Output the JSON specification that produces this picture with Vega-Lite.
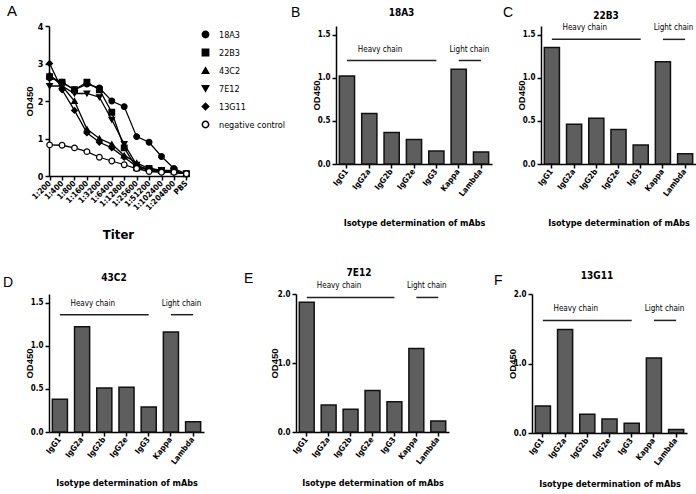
{
  "$schema": "https://vega.github.io/schema/vega-lite/v6.json",
  "padding": {"left": 3, "top": 4, "right": 0, "bottom": 0},
  "background": "white",
  "config": {
    "view": {"stroke": null},
    "font": "DejaVu Sans Condensed, Liberation Sans",
    "axis": {"domainColor": "black", "tickColor": "black", "labelColor": "black", "titleColor": "black", "grid": false, "domainWidth": 1.5, "tickWidth": 1.5, "labelFont": "DejaVu Sans Condensed, Liberation Sans", "titleFont": "DejaVu Sans Condensed, Liberation Sans"},
    "legend": {"labelFont": "DejaVu Sans Condensed, Liberation Sans"},
    "title": {"color": "black", "font": "DejaVu Sans Condensed, Liberation Sans"},
    "text": {"font": "DejaVu Sans Condensed, Liberation Sans"}
  },
  "resolve": {"scale": {"shape": "independent", "fill": "independent"}, "legend": {"shape": "independent", "fill": "independent"}},
  "datasets": {
    "lines": [
      {"series": "18A3", "titer": "1:200", "od": 2.62}, {"series": "18A3", "titer": "1:400", "od": 2.5}, {"series": "18A3", "titer": "1:800", "od": 2.3}, {"series": "18A3", "titer": "1:1600", "od": 2.45}, {"series": "18A3", "titer": "1:3200", "od": 2.35}, {"series": "18A3", "titer": "1:6400", "od": 2.0}, {"series": "18A3", "titer": "1:12800", "od": 1.85}, {"series": "18A3", "titer": "1:25600", "od": 1.05}, {"series": "18A3", "titer": "1:51200", "od": 0.9}, {"series": "18A3", "titer": "1:102400", "od": 0.52}, {"series": "18A3", "titer": "1:204800", "od": 0.2}, {"series": "18A3", "titer": "PBS", "od": 0.06},
      {"series": "22B3", "titer": "1:200", "od": 2.65}, {"series": "22B3", "titer": "1:400", "od": 2.5}, {"series": "22B3", "titer": "1:800", "od": 2.3}, {"series": "22B3", "titer": "1:1600", "od": 2.5}, {"series": "22B3", "titer": "1:3200", "od": 2.3}, {"series": "22B3", "titer": "1:6400", "od": 1.7}, {"series": "22B3", "titer": "1:12800", "od": 0.75}, {"series": "22B3", "titer": "1:25600", "od": 0.22}, {"series": "22B3", "titer": "1:51200", "od": 0.2}, {"series": "22B3", "titer": "1:102400", "od": 0.15}, {"series": "22B3", "titer": "1:204800", "od": 0.15}, {"series": "22B3", "titer": "PBS", "od": 0.06},
      {"series": "43C2", "titer": "1:200", "od": 2.7}, {"series": "43C2", "titer": "1:400", "od": 2.4}, {"series": "43C2", "titer": "1:800", "od": 2.0}, {"series": "43C2", "titer": "1:1600", "od": 1.25}, {"series": "43C2", "titer": "1:3200", "od": 1.0}, {"series": "43C2", "titer": "1:6400", "od": 0.85}, {"series": "43C2", "titer": "1:12800", "od": 0.55}, {"series": "43C2", "titer": "1:25600", "od": 0.35}, {"series": "43C2", "titer": "1:51200", "od": 0.2}, {"series": "43C2", "titer": "1:102400", "od": 0.15}, {"series": "43C2", "titer": "1:204800", "od": 0.12}, {"series": "43C2", "titer": "PBS", "od": 0.06},
      {"series": "7E12", "titer": "1:200", "od": 2.4}, {"series": "7E12", "titer": "1:400", "od": 2.4}, {"series": "7E12", "titer": "1:800", "od": 2.2}, {"series": "7E12", "titer": "1:1600", "od": 2.2}, {"series": "7E12", "titer": "1:3200", "od": 2.1}, {"series": "7E12", "titer": "1:6400", "od": 1.5}, {"series": "7E12", "titer": "1:12800", "od": 0.85}, {"series": "7E12", "titer": "1:25600", "od": 0.3}, {"series": "7E12", "titer": "1:51200", "od": 0.15}, {"series": "7E12", "titer": "1:102400", "od": 0.15}, {"series": "7E12", "titer": "1:204800", "od": 0.12}, {"series": "7E12", "titer": "PBS", "od": 0.06},
      {"series": "13G11", "titer": "1:200", "od": 3.0}, {"series": "13G11", "titer": "1:400", "od": 2.3}, {"series": "13G11", "titer": "1:800", "od": 1.75}, {"series": "13G11", "titer": "1:1600", "od": 1.15}, {"series": "13G11", "titer": "1:3200", "od": 0.9}, {"series": "13G11", "titer": "1:6400", "od": 0.75}, {"series": "13G11", "titer": "1:12800", "od": 0.5}, {"series": "13G11", "titer": "1:25600", "od": 0.25}, {"series": "13G11", "titer": "1:51200", "od": 0.15}, {"series": "13G11", "titer": "1:102400", "od": 0.12}, {"series": "13G11", "titer": "1:204800", "od": 0.1}, {"series": "13G11", "titer": "PBS", "od": 0.06},
      {"series": "negative control", "titer": "1:200", "od": 0.83}, {"series": "negative control", "titer": "1:400", "od": 0.82}, {"series": "negative control", "titer": "1:800", "od": 0.75}, {"series": "negative control", "titer": "1:1600", "od": 0.65}, {"series": "negative control", "titer": "1:3200", "od": 0.5}, {"series": "negative control", "titer": "1:6400", "od": 0.4}, {"series": "negative control", "titer": "1:12800", "od": 0.3}, {"series": "negative control", "titer": "1:25600", "od": 0.2}, {"series": "negative control", "titer": "1:51200", "od": 0.12}, {"series": "negative control", "titer": "1:102400", "od": 0.1}, {"series": "negative control", "titer": "1:204800", "od": 0.1}, {"series": "negative control", "titer": "PBS", "od": 0.06}
    ],
    "bars": [
      {"panel": "18A3", "isotype": "IgG1", "od": 1.02}, {"panel": "18A3", "isotype": "IgG2a", "od": 0.585}, {"panel": "18A3", "isotype": "IgG2b", "od": 0.365}, {"panel": "18A3", "isotype": "IgG2e", "od": 0.285}, {"panel": "18A3", "isotype": "IgG3", "od": 0.15}, {"panel": "18A3", "isotype": "Kappa", "od": 1.1}, {"panel": "18A3", "isotype": "Lambda", "od": 0.14},
      {"panel": "22B3", "isotype": "IgG1", "od": 1.35}, {"panel": "22B3", "isotype": "IgG2a", "od": 0.46}, {"panel": "22B3", "isotype": "IgG2b", "od": 0.53}, {"panel": "22B3", "isotype": "IgG2e", "od": 0.4}, {"panel": "22B3", "isotype": "IgG3", "od": 0.22}, {"panel": "22B3", "isotype": "Kappa", "od": 1.185}, {"panel": "22B3", "isotype": "Lambda", "od": 0.12},
      {"panel": "43C2", "isotype": "IgG1", "od": 0.38}, {"panel": "43C2", "isotype": "IgG2a", "od": 1.22}, {"panel": "43C2", "isotype": "IgG2b", "od": 0.51}, {"panel": "43C2", "isotype": "IgG2e", "od": 0.52}, {"panel": "43C2", "isotype": "IgG3", "od": 0.29}, {"panel": "43C2", "isotype": "Kappa", "od": 1.16}, {"panel": "43C2", "isotype": "Lambda", "od": 0.12},
      {"panel": "7E12", "isotype": "IgG1", "od": 1.88}, {"panel": "7E12", "isotype": "IgG2a", "od": 0.39}, {"panel": "7E12", "isotype": "IgG2b", "od": 0.33}, {"panel": "7E12", "isotype": "IgG2e", "od": 0.6}, {"panel": "7E12", "isotype": "IgG3", "od": 0.44}, {"panel": "7E12", "isotype": "Kappa", "od": 1.21}, {"panel": "7E12", "isotype": "Lambda", "od": 0.16},
      {"panel": "13G11", "isotype": "IgG1", "od": 0.39}, {"panel": "13G11", "isotype": "IgG2a", "od": 1.49}, {"panel": "13G11", "isotype": "IgG2b", "od": 0.27}, {"panel": "13G11", "isotype": "IgG2e", "od": 0.2}, {"panel": "13G11", "isotype": "IgG3", "od": 0.14}, {"panel": "13G11", "isotype": "Kappa", "od": 1.08}, {"panel": "13G11", "isotype": "Lambda", "od": 0.05}
    ],
    "annot": [
      {"label": "Heavy chain", "from": "IgG1", "to": "IgG3", "mid": "IgG2b"},
      {"label": "Light chain", "from": "Kappa", "to": "Lambda", "mid": "Lambda"}
    ]
  },
  "spacing": 26,
  "vconcat": [
    {
      "spacing": 1,
      "resolve": {"scale": {"shape": "independent", "fill": "independent"}, "legend": {"shape": "independent", "fill": "independent"}},
      "hconcat": [
        {
          "title": {"text": "A", "anchor": "start", "frame": "group", "font": "Liberation Sans", "fontSize": 15, "fontWeight": "normal", "dx": -42, "offset": 3},
          "width": 138, "height": 150,
          "data": {"name": "lines"},
          "encoding": {
            "x": {"field": "titer", "type": "ordinal", "scale": {"type": "point", "padding": 0.05, "domain": ["1:200", "1:400", "1:800", "1:1600", "1:3200", "1:6400", "1:12800", "1:25600", "1:51200", "1:102400", "1:204800", "PBS"]},
              "axis": {"title": "Titer", "labelAngle": -45, "labelAlign": "right", "labelBaseline": "middle", "labelFontSize": 8, "labelFontWeight": "bold", "titleFontSize": 13, "titleFontWeight": "bold", "tickSize": 4, "labelPadding": 2, "titlePadding": 17}},
            "y": {"field": "od", "type": "quantitative", "scale": {"domain": [0, 4]},
              "axis": {"title": "OD450", "values": [0, 1, 2, 3, 4], "labelFontSize": 9, "labelFontWeight": "bold", "titleFont": "Liberation Sans", "titleFontSize": 9.5, "titleFontWeight": "bold", "titleX": -20, "titleBaseline": "middle", "tickSize": 4, "labelPadding": 2}}
          },
          "layer": [
            {"mark": {"type": "line", "color": "black", "strokeWidth": 1.3}, "encoding": {"detail": {"field": "series"}}},
            {"mark": {"type": "point", "filled": true, "stroke": "black", "strokeWidth": 1.2, "size": 32, "opacity": 1},
              "encoding": {
                "shape": {"field": "series", "type": "nominal", "scale": {"domain": ["18A3", "22B3", "43C2", "7E12", "13G11", "negative control"], "range": ["circle", "square", "triangle-up", "triangle-down", "diamond", "circle"]},
                  "legend": {"title": null, "orient": "right", "offset": 8, "labelFontSize": 9, "labelOffset": 9, "symbolSize": 40, "rowPadding": 5, "padding": 4, "labelColor": "black", "encode": {"symbols": {"update": {"stroke": {"value": "black"}, "strokeWidth": {"value": 1.2}}}}}},
                "fill": {"field": "series", "type": "nominal", "scale": {"domain": ["18A3", "22B3", "43C2", "7E12", "13G11", "negative control"], "range": ["black", "black", "black", "black", "black", "white"]},
                  "legend": {"title": null, "orient": "right", "offset": 8, "labelFontSize": 9, "labelOffset": 9, "symbolSize": 40, "rowPadding": 5, "padding": 4, "labelColor": "black", "encode": {"symbols": {"update": {"stroke": {"value": "black"}, "strokeWidth": {"value": 1.2}}}}}}
              }}
          ]
        },
        {
          "spacing": 11,
          "hconcat": [
            {
              "title": {"text": "B", "anchor": "start", "frame": "bounds", "font": "Liberation Sans", "fontSize": 14, "fontWeight": "normal", "dx": -20, "dy": 12, "offset": 0},
              "vconcat": [{
                "title": {"text": "18A3", "fontSize": 10, "fontWeight": "bold", "offset": 8, "anchor": "middle", "frame": "bounds"},
                "width": 156, "height": 138,
                "layer": [
                  {"data": {"name": "bars"}, "transform": [{"filter": "datum.panel === '18A3'"}],
                    "mark": {"type": "bar", "fill": "#5e5e5e", "stroke": "#111111", "strokeWidth": 1.5},
                    "encoding": {
                      "x": {"field": "isotype", "type": "nominal", "scale": {"domain": ["IgG1", "IgG2a", "IgG2b", "IgG2e", "IgG3", "Kappa", "Lambda"], "paddingInner": 0.32, "paddingOuter": 0.15},
                        "axis": {"title": "Isotype determination of mAbs", "labelAngle": -52, "labelFontSize": 8, "labelFontWeight": "bold", "titleFontSize": 9, "titleFontWeight": "bold", "tickSize": 4, "labelPadding": 2, "titlePadding": 21}},
                      "y": {"field": "od", "type": "quantitative", "scale": {"domain": [0, 1.5]},
                        "axis": {"title": "OD450", "values": [0, 0.5, 1, 1.5], "format": ".1f", "labelFontSize": 8, "labelFontWeight": "bold", "titleFont": "Liberation Sans", "titleFontSize": 9.5, "titleFontWeight": "bold", "titleX": -20, "titleBaseline": "middle", "tickSize": 4, "labelPadding": 2}}
                    }},
                  {"data": {"name": "annot"}, "mark": {"type": "rule", "color": "#222222", "strokeWidth": 1.5},
                    "encoding": {"x": {"field": "from", "type": "nominal"}, "x2": {"field": "to"}, "y": {"datum": 1.2}}},
                  {"data": {"name": "annot"}, "mark": {"type": "text", "fontSize": 8, "dx": -4, "dy": -11, "baseline": "middle", "color": "black"},
                    "encoding": {"x": {"field": "mid", "type": "nominal", "bandPosition": 0}, "y": {"datum": 1.2}, "text": {"field": "label"}}}
                ]
              }]
            },
            {
              "title": {"text": "C", "anchor": "start", "frame": "bounds", "font": "Liberation Sans", "fontSize": 14, "fontWeight": "normal", "dx": -13, "dy": 9, "offset": 0},
              "vconcat": [{
                "title": {"text": "22B3", "fontSize": 10, "fontWeight": "bold", "offset": 3, "anchor": "middle", "frame": "bounds"},
                "width": 155, "height": 138,
                "layer": [
                  {"data": {"name": "bars"}, "transform": [{"filter": "datum.panel === '22B3'"}],
                    "mark": {"type": "bar", "fill": "#5e5e5e", "stroke": "#111111", "strokeWidth": 1.5},
                    "encoding": {
                      "x": {"field": "isotype", "type": "nominal", "scale": {"domain": ["IgG1", "IgG2a", "IgG2b", "IgG2e", "IgG3", "Kappa", "Lambda"], "paddingInner": 0.32, "paddingOuter": 0.15},
                        "axis": {"title": "Isotype determination of mAbs", "labelAngle": -52, "labelFontSize": 8, "labelFontWeight": "bold", "titleFontSize": 9, "titleFontWeight": "bold", "tickSize": 4, "labelPadding": 2, "titlePadding": 21}},
                      "y": {"field": "od", "type": "quantitative", "scale": {"domain": [0, 1.5]},
                        "axis": {"title": "OD450", "values": [0, 0.5, 1, 1.5], "format": ".1f", "labelFontSize": 8, "labelFontWeight": "bold", "titleFont": "Liberation Sans", "titleFontSize": 9.5, "titleFontWeight": "bold", "titleX": -20, "titleBaseline": "middle", "tickSize": 4, "labelPadding": 2}}
                    }},
                  {"data": {"name": "annot"}, "mark": {"type": "rule", "color": "#222222", "strokeWidth": 1.5},
                    "encoding": {"x": {"field": "from", "type": "nominal"}, "x2": {"field": "to"}, "y": {"datum": 1.445}}},
                  {"data": {"name": "annot"}, "mark": {"type": "text", "fontSize": 8, "dx": -4, "dy": -11, "baseline": "middle", "color": "black"},
                    "encoding": {"x": {"field": "mid", "type": "nominal", "bandPosition": 0}, "y": {"datum": 1.445}, "text": {"field": "label"}}}
                ]
              }]
            }
          ]
        }
      ]
    },
    {
      "spacing": 40,
      "hconcat": [
        {
          "title": {"text": "D", "anchor": "start", "frame": "bounds", "font": "Liberation Sans", "fontSize": 14, "fontWeight": "normal", "dx": -21, "dy": 17, "offset": 0},
          "vconcat": [{
            "title": {"text": "43C2", "fontSize": 10, "fontWeight": "bold", "offset": 11, "anchor": "middle", "frame": "bounds"},
            "width": 155, "height": 138,
            "layer": [
              {"data": {"name": "bars"}, "transform": [{"filter": "datum.panel === '43C2'"}],
                "mark": {"type": "bar", "fill": "#5e5e5e", "stroke": "#111111", "strokeWidth": 1.5},
                "encoding": {
                  "x": {"field": "isotype", "type": "nominal", "scale": {"domain": ["IgG1", "IgG2a", "IgG2b", "IgG2e", "IgG3", "Kappa", "Lambda"], "paddingInner": 0.32, "paddingOuter": 0.15},
                    "axis": {"title": "Isotype determination of mAbs", "labelAngle": -52, "labelFontSize": 8, "labelFontWeight": "bold", "titleFontSize": 9, "titleFontWeight": "bold", "tickSize": 4, "labelPadding": 2, "titlePadding": 13}},
                  "y": {"field": "od", "type": "quantitative", "scale": {"domain": [0, 1.5]},
                    "axis": {"title": "OD450", "values": [0, 0.5, 1, 1.5], "format": ".1f", "labelFontSize": 8, "labelFontWeight": "bold", "titleFont": "Liberation Sans", "titleFontSize": 9.5, "titleFontWeight": "bold", "titleX": -20, "titleBaseline": "middle", "tickSize": 4, "labelPadding": 2}}
                }},
              {"data": {"name": "annot"}, "mark": {"type": "rule", "color": "#222222", "strokeWidth": 1.5},
                "encoding": {"x": {"field": "from", "type": "nominal"}, "x2": {"field": "to"}, "y": {"datum": 1.36}}},
              {"data": {"name": "annot"}, "mark": {"type": "text", "fontSize": 8, "dx": -4, "dy": -11, "baseline": "middle", "color": "black"},
                "encoding": {"x": {"field": "mid", "type": "nominal", "bandPosition": 0}, "y": {"datum": 1.36}, "text": {"field": "label"}}}
            ]
          }]
        },
        {
          "spacing": 45,
          "hconcat": [
            {
              "title": {"text": "E", "anchor": "start", "frame": "bounds", "font": "Liberation Sans", "fontSize": 14, "fontWeight": "normal", "dx": -25, "dy": 18, "offset": 0},
              "vconcat": [{
                "title": {"text": "7E12", "fontSize": 10, "fontWeight": "bold", "offset": 4, "anchor": "middle", "frame": "bounds"},
                "width": 153, "height": 138,
                "layer": [
                  {"data": {"name": "bars"}, "transform": [{"filter": "datum.panel === '7E12'"}],
                    "mark": {"type": "bar", "fill": "#5e5e5e", "stroke": "#111111", "strokeWidth": 1.5},
                    "encoding": {
                      "x": {"field": "isotype", "type": "nominal", "scale": {"domain": ["IgG1", "IgG2a", "IgG2b", "IgG2e", "IgG3", "Kappa", "Lambda"], "paddingInner": 0.32, "paddingOuter": 0.15},
                        "axis": {"title": "Isotype determination of mAbs", "labelAngle": -52, "labelFontSize": 8, "labelFontWeight": "bold", "titleFontSize": 9, "titleFontWeight": "bold", "tickSize": 4, "labelPadding": 2, "titlePadding": 13}},
                      "y": {"field": "od", "type": "quantitative", "scale": {"domain": [0, 2]},
                        "axis": {"title": "OD450", "values": [0, 0.5, 1, 1.5, 2], "format": ".1f", "labelFontSize": 8, "labelFontWeight": "bold", "titleFont": "Liberation Sans", "titleFontSize": 9.5, "titleFontWeight": "bold", "titleX": -22, "titleBaseline": "middle", "tickSize": 4, "labelPadding": 2}}
                    }},
                  {"data": {"name": "annot"}, "mark": {"type": "rule", "color": "#222222", "strokeWidth": 1.5},
                    "encoding": {"x": {"field": "from", "type": "nominal"}, "x2": {"field": "to"}, "y": {"datum": 1.95}}},
                  {"data": {"name": "annot"}, "mark": {"type": "text", "fontSize": 8, "dx": -4, "dy": -11, "baseline": "middle", "color": "black"},
                    "encoding": {"x": {"field": "mid", "type": "nominal", "bandPosition": 0}, "y": {"datum": 1.95}, "text": {"field": "label"}}}
                ]
              }]
            },
            {
              "title": {"text": "F", "anchor": "start", "frame": "bounds", "font": "Liberation Sans", "fontSize": 14, "fontWeight": "normal", "dx": -13, "dy": 17, "offset": 0},
              "vconcat": [{
                "title": {"text": "13G11", "fontSize": 10, "fontWeight": "bold", "offset": 9, "anchor": "middle", "frame": "bounds"},
                "width": 155, "height": 139,
                "layer": [
                  {"data": {"name": "bars"}, "transform": [{"filter": "datum.panel === '13G11'"}],
                    "mark": {"type": "bar", "fill": "#5e5e5e", "stroke": "#111111", "strokeWidth": 1.5},
                    "encoding": {
                      "x": {"field": "isotype", "type": "nominal", "scale": {"domain": ["IgG1", "IgG2a", "IgG2b", "IgG2e", "IgG3", "Kappa", "Lambda"], "paddingInner": 0.32, "paddingOuter": 0.15},
                        "axis": {"title": "Isotype determination of mAbs", "labelAngle": -52, "labelFontSize": 8, "labelFontWeight": "bold", "titleFontSize": 9, "titleFontWeight": "bold", "tickSize": 4, "labelPadding": 2, "titlePadding": 13}},
                      "y": {"field": "od", "type": "quantitative", "scale": {"domain": [0, 2]},
                        "axis": {"title": "OD450", "values": [0, 0.5, 1, 1.5, 2], "format": ".1f", "labelFontSize": 8, "labelFontWeight": "bold", "titleFont": "Liberation Sans", "titleFontSize": 9.5, "titleFontWeight": "bold", "titleX": -20, "titleBaseline": "middle", "tickSize": 4, "labelPadding": 2}}
                    }},
                  {"data": {"name": "annot"}, "mark": {"type": "rule", "color": "#222222", "strokeWidth": 1.5},
                    "encoding": {"x": {"field": "from", "type": "nominal"}, "x2": {"field": "to"}, "y": {"datum": 1.62}}},
                  {"data": {"name": "annot"}, "mark": {"type": "text", "fontSize": 8, "dx": -4, "dy": -11, "baseline": "middle", "color": "black"},
                    "encoding": {"x": {"field": "mid", "type": "nominal", "bandPosition": 0}, "y": {"datum": 1.62}, "text": {"field": "label"}}}
                ]
              }]
            }
          ]
        }
      ]
    }
  ]
}
